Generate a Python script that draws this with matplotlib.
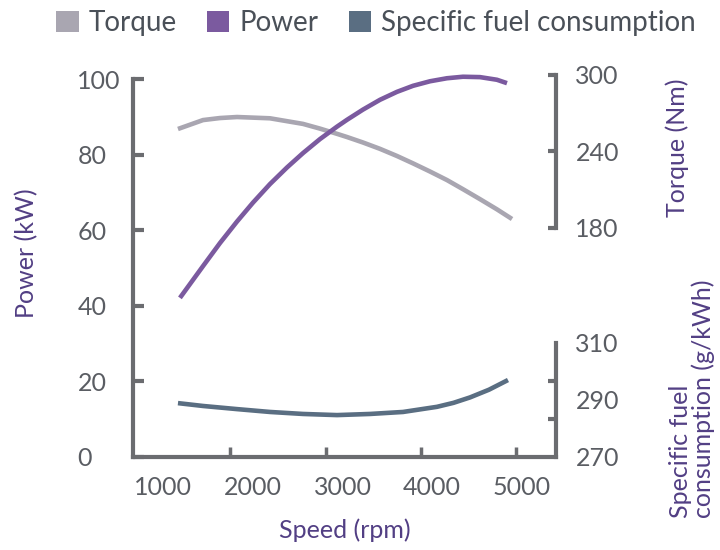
import matplotlib
matplotlib.use('Agg')
import matplotlib.pyplot as plt
from matplotlib.patches import Patch
import numpy as np

plt.rcParams['font.family'] = ['Lato', 'DejaVu Sans']

# ---- data ----
speed_power = [1189, 1446, 1635, 1825, 2003, 2192, 2382, 2560, 2749, 2939, 3050,
               3228, 3418, 3607, 3786, 3975, 4164, 4343, 4532, 4721, 4833]
power_kw = [42.1, 50.5, 56.6, 62.3, 67.3, 72.2, 76.6, 80.4, 84.1, 87.4, 89.2,
            91.9, 94.5, 96.6, 98.2, 99.4, 100.2, 100.6, 100.5, 99.8, 98.9]

speed_torque = [1167, 1446, 1635, 1825, 2192, 2560, 2749, 2939, 3050, 3228, 3418, 3607,
                3786, 3975, 4164, 4343, 4532, 4721, 4889]
torque_nm = [257.6, 264.6, 266.2, 267.0, 266.0, 261.6, 257.9, 253.8, 251.3, 247.0, 242.0,
             236.4, 230.6, 224.2, 217.5, 210.3, 202.5, 194.5, 186.9]

speed_sfc = [1167, 1446, 1825, 2192, 2560, 2939, 3307, 3675, 4053, 4237, 4421, 4632, 4844]
sfc_gkwh = [288.9, 287.9, 286.8, 285.8, 285.1, 284.7, 285.1, 285.8, 287.6, 289.0, 290.9,
            293.6, 297.0]

speed_ticks = [1000, 2000, 3000, 4000, 5000]
power_ticks = [0, 20, 40, 60, 80, 100]
torque_ticks = [180, 240, 300]
sfc_ticks = [270, 290, 310]

legend_labels = ['Torque', 'Power', 'Specific fuel consumption']

# ---- style ----
c_torque = '#a9a6b1'
c_power = '#7b5a9f'
c_sfc = '#5a6e82'
c_axis = '#6b6c70'
c_tick = '#5a5d63'
c_label = '#523f84'
lw = 3.3
fs = 18

fig = plt.figure(figsize=(7.2, 5.5), dpi=100)
ax = fig.add_axes([133/720, 93/550, 423/720, 382/550])
ax_t = ax.twinx()
ax_s = ax.twinx()
ax_p = ax.twinx()

ax.set_xlim(666, 5379)
ax.set_ylim(0, 101.06)
ax_t.set_ylim(0, 300)
ax_s.set_ylim(270, 404)
ax_p.set_ylim(0, 101.06)

line_kw = dict(lw=lw, solid_capstyle='butt', solid_joinstyle='round', clip_on=False)
ax_t.plot(speed_torque, torque_nm, color=c_torque, zorder=2, **line_kw)
ax_s.plot(speed_sfc, sfc_gkwh, color=c_sfc, zorder=2, **line_kw)
ax_p.plot(speed_power, power_kw, color=c_power, zorder=3, **line_kw)
ax_p.set_yticks([])

# spines
for a in (ax, ax_t, ax_s, ax_p):
    for s in a.spines.values():
        s.set_visible(False)
    a.patch.set_visible(False)

ax.spines['left'].set_visible(True)
ax.spines['bottom'].set_visible(True)
ax.spines['left'].set_bounds(0, 100)
for s in ('left', 'bottom'):
    ax.spines[s].set_color(c_axis)
    ax.spines[s].set_linewidth(3)
    ax.spines[s].set_capstyle('projecting')

ax_t.spines['right'].set_visible(True)
ax_t.spines['right'].set_bounds(180, 300)
ax_s.spines['right'].set_visible(True)
ax_s.spines['right'].set_bounds(270, 310)
for a in (ax_t, ax_s):
    a.spines['right'].set_color(c_axis)
    a.spines['right'].set_linewidth(3)
    a.spines['right'].set_capstyle('projecting')

# x ticks: labels on major (no marks), marks on minor
ax.set_xticks(speed_ticks)
ax.set_xticklabels([str(v) for v in speed_ticks])
ax.set_xticks([1746, 2816, 3875, 4933], minor=True)
ax.tick_params(axis='x', which='major', length=0, pad=14, labelsize=fs, labelcolor=c_tick)
ax.tick_params(axis='x', which='minor', direction='in', length=7, width=2.5, color=c_axis)

# left y
ax.set_yticks(power_ticks)
ax.tick_params(axis='y', which='major', direction='in', length=8, width=3, color=c_axis,
               pad=40, labelsize=fs, labelcolor=c_tick)
for t in ax.get_yticklabels():
    t.set_horizontalalignment('left')

# torque axis
ax_t.set_yticks(torque_ticks)
ax_t.tick_params(axis='y', direction='in', length=6, width=3, color=c_axis, pad=14,
                 labelsize=fs, labelcolor=c_tick)

# sfc axis
ax_s.set_yticks(sfc_ticks)
ax_s.set_yticks(np.linspace(270, 310, 4), minor=True)
ax_s.tick_params(axis='y', which='major', length=0, pad=14, labelsize=fs, labelcolor=c_tick)
ax_s.tick_params(axis='y', which='minor', direction='in', length=6, width=3, color=c_axis)

# axis labels
ax.set_xlabel('Speed (rpm)', fontsize=fs, color=c_label, labelpad=14)
fig.text(27/720, 1 - 253/550, 'Power (kW)', rotation=90, ha='center', va='center',
         fontsize=fs, color=c_label)
fig.text(677/720, 1 - 148/550, 'Torque (Nm)', rotation=90, ha='center', va='center',
         fontsize=fs, color=c_label)
fig.text(692/720, 1 - 399/550, 'Specific fuel\nconsumption (g/kWh)', rotation=90,
         ha='center', va='center', multialignment='left', fontsize=fs, color=c_label,
         linespacing=0.95)

# legend
handles = [Patch(facecolor=c, edgecolor='none', label=l)
           for c, l in zip([c_torque, c_power, c_sfc], legend_labels)]
leg = fig.legend(handles=handles, loc='center', bbox_to_anchor=(0.522, 0.958), ncol=3,
                 frameon=False, fontsize=20, handlelength=0.8, handleheight=0.8,
                 handletextpad=0.35, columnspacing=1.1, borderaxespad=0)
for t in leg.get_texts():
    t.set_color('#4a5058')

fig.savefig('out.png', dpi=100)
